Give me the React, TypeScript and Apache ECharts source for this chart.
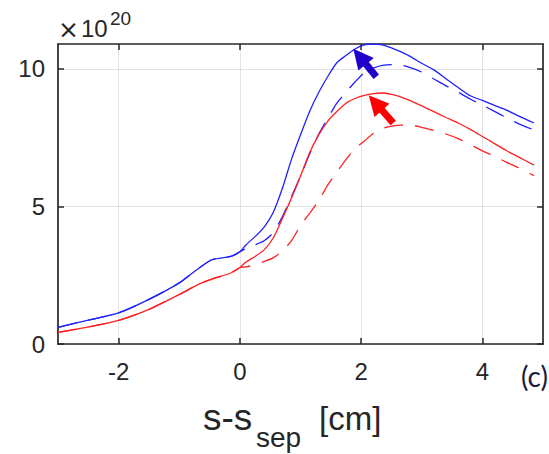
import React, { useEffect, useRef } from "react";
import * as echarts from "echarts";

// s - s_sep [cm]
const xs = [-3, -2.5, -2, -1.5, -1, -0.65, -0.45, -0.15, 0, 0.1, 0.25, 0.4, 0.55, 0.7, 0.85, 1.0, 1.15, 1.3, 1.45, 1.6, 1.75, 1.9, 2.05, 2.2, 2.35, 2.5, 2.65, 2.8, 3.0, 3.2, 3.4, 3.6, 3.8, 4.0, 4.2, 4.4, 4.6, 4.85];
// values in units of 1e20
const blueSolid = [0.6, 0.87, 1.13, 1.62, 2.22, 2.8, 3.07, 3.18, 3.35, 3.6, 3.9, 4.25, 4.78, 5.65, 6.7, 7.6, 8.45, 9.14, 9.72, 10.22, 10.48, 10.72, 10.87, 10.9, 10.87, 10.76, 10.62, 10.46, 10.2, 9.96, 9.64, 9.32, 9.02, 8.85, 8.67, 8.5, 8.28, 8.03];
const blueDashed = [0.6, 0.87, 1.13, 1.62, 2.22, 2.8, 3.07, 3.18, 3.35, 3.47, 3.6, 3.75, 4.05, 4.62, 5.35, 6.1, 6.9, 7.62, 8.2, 8.75, 9.15, 9.52, 9.85, 10.02, 10.12, 10.15, 10.14, 10.05, 9.88, 9.63, 9.38, 9.15, 8.9, 8.68, 8.45, 8.22, 8.0, 7.78];
const redSolid = [0.42, 0.62, 0.86, 1.26, 1.8, 2.2, 2.37, 2.58, 2.78, 2.98, 3.18, 3.42, 3.85, 4.55, 5.3, 6.1, 6.95, 7.6, 8.1, 8.45, 8.75, 8.92, 9.03, 9.1, 9.12, 9.07, 8.98, 8.85, 8.65, 8.44, 8.23, 8.03, 7.8, 7.54, 7.28, 7.02, 6.79, 6.5];
const redDashed = [0.42, 0.62, 0.86, 1.26, 1.8, 2.2, 2.37, 2.58, 2.78, 2.8, 2.88, 3.0, 3.13, 3.38, 3.75, 4.3, 4.75, 5.2, 5.78, 6.25, 6.7, 7.1, 7.37, 7.65, 7.83, 7.92, 7.95, 7.96, 7.87, 7.76, 7.63, 7.46, 7.24, 7.02, 6.82, 6.6, 6.4, 6.12];

const xTicks = [-2, 0, 2, 4];
const yTicks = [0, 5, 10];

// arrows: [tail, tip] in data coords
const blueArrow = [[2.25, 9.71], [1.87, 10.73]];
const redArrow = [[2.53, 8.03], [2.12, 9.05]];

const AX = "#262626";
const FONT = "'Liberation Sans', Arial, sans-serif";
const BLUE = "#2020ff";
const RED = "#ff2020";

function pairs(ys: number[]) {
  return xs.map((x, i) => [x, ys[i]]);
}

function arrowLine(a: number[][], color: string) {
  const [tail, tip] = a;
  const f = 0.72;
  const end = [tail[0] + f * (tip[0] - tail[0]), tail[1] + f * (tip[1] - tail[1])];
  return {
    silent: true,
    animation: false,
    symbol: ["none", "triangle"],
    symbolSize: [20, 20],
    label: { show: false },
    emphasis: { disabled: true },
    lineStyle: { color, width: 7, type: "solid", opacity: 1 },
    itemStyle: { color },
    data: [[{ coord: tail }, { coord: end }]],
  };
}

export default function App() {
  const ref = useRef<HTMLDivElement>(null);
  useEffect(() => {
    if (!ref.current) return;
    const chart = echarts.init(ref.current, null, { renderer: "svg" });
    const axisLine = { show: true, onZero: false, lineStyle: { color: AX, width: 1.7 } };
    const lineBase = { type: "line", showSymbol: false, symbol: "none", silent: true, smooth: 0.25 };
    chart.setOption({
      animation: false,
      textStyle: { fontFamily: FONT },
      grid: { left: 58, top: 44, right: 6, bottom: 110, containLabel: false, outerBoundsMode: "none" },
      xAxis: [
        {
          type: "value", min: -3, max: 5, position: "bottom",
          axisLine,
          axisTick: { show: true, inside: true, length: 6, customValues: xTicks, lineStyle: { color: AX, width: 1.5 } },
          axisLabel: { show: true, customValues: xTicks, fontSize: 24, color: AX, fontFamily: FONT, margin: 15 },
          splitLine: { show: true, lineStyle: { color: "#e2e2e2", width: 1 } },
        },
        {
          type: "value", min: -3, max: 5, position: "top",
          axisLine,
          axisTick: { show: true, inside: true, length: 6, customValues: xTicks, lineStyle: { color: AX, width: 1.5 } },
          axisLabel: { show: false },
          splitLine: { show: false },
        },
      ],
      yAxis: [
        {
          type: "value", min: 0, max: 10.9, position: "left",
          axisLine,
          axisTick: { show: true, inside: true, length: 6, customValues: yTicks, lineStyle: { color: AX, width: 1.5 } },
          axisLabel: { show: true, customValues: yTicks, fontSize: 24, color: AX, fontFamily: FONT, margin: 13 },
          splitLine: { show: true, lineStyle: { color: "#e2e2e2", width: 1 } },
        },
        {
          type: "value", min: 0, max: 10.9, position: "right",
          axisLine,
          axisTick: { show: true, inside: true, length: 6, customValues: yTicks, lineStyle: { color: AX, width: 1.5 } },
          axisLabel: { show: false },
          splitLine: { show: false },
        },
      ],
      series: [
        { ...lineBase, name: "blue dashed", data: pairs(blueDashed), lineStyle: { color: BLUE, width: 1.3, type: [19, 12] } },
        { ...lineBase, name: "red dashed", data: pairs(redDashed), lineStyle: { color: RED, width: 1.3, type: [19, 12] } },
        { ...lineBase, name: "blue", data: pairs(blueSolid), lineStyle: { color: BLUE, width: 1.3 }, markLine: arrowLine(blueArrow, "#2200cc") },
        { ...lineBase, name: "red", data: pairs(redSolid), lineStyle: { color: RED, width: 1.3 }, markLine: arrowLine(redArrow, "#ff0000") },
      ],
      graphic: [
        { type: "text", x: 58, y: 29.5, style: { text: "×", fontSize: 25, fontFamily: "'DejaVu Sans', sans-serif", fill: AX, align: "left", verticalAlign: "middle" } },
        { type: "text", x: 81, y: 28.7, style: { text: "10", fontSize: 24, fontFamily: FONT, fill: AX, align: "left", verticalAlign: "middle" } },
        { type: "text", x: 110, y: 18.4, style: { text: "20", fontSize: 19, fontFamily: FONT, fill: AX, align: "left", verticalAlign: "middle" } },
        { type: "text", x: 203, y: 417, style: { text: "s-s", fontSize: 37, fontFamily: FONT, fill: AX, align: "left", verticalAlign: "middle" } },
        { type: "text", x: 256, y: 437.3, style: { text: "sep", fontSize: 28, fontFamily: FONT, fill: AX, align: "left", verticalAlign: "middle" } },
        { type: "text", x: 319, y: 418.9, style: { text: "[cm]", fontSize: 33, fontFamily: FONT, fill: AX, align: "left", verticalAlign: "middle" } },
        { type: "text", x: 548, y: 376, style: { text: "(c)", fontSize: 28, fontFamily: "Lato, 'Open Sans', sans-serif", fill: "#1c1c3a", align: "right", verticalAlign: "middle" } },
      ],
    });
    return () => chart.dispose();
  }, []);
  return <div ref={ref} style={{ position: "fixed", left: 0, top: 0, width: 549, height: 454, background: "#fff" }} />;
}
